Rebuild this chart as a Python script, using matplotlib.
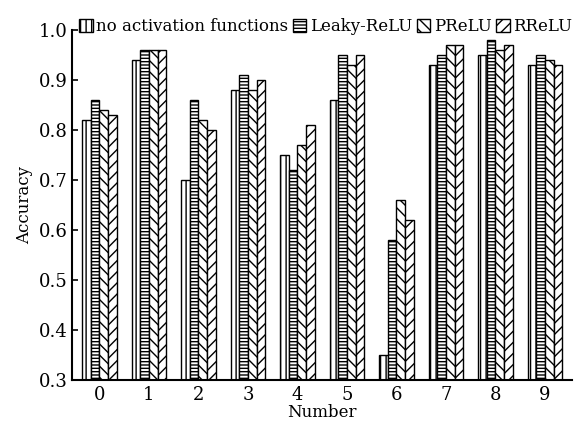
import matplotlib
matplotlib.use("Agg")
import matplotlib.pyplot as plt
import numpy as np

plt.rcParams['font.family'] = ['DejaVu Serif']
plt.rcParams['hatch.linewidth'] = 1.0

categories = ['0', '1', '2', '3', '4', '5', '6', '7', '8', '9']
series_names = ['no activation functions', 'Leaky-ReLU', 'PReLU', 'RReLU']
no_act = [0.82, 0.94, 0.70, 0.88, 0.75, 0.86, 0.35, 0.93, 0.95, 0.93]
leaky = [0.86, 0.96, 0.86, 0.91, 0.72, 0.95, 0.58, 0.95, 0.98, 0.95]
prelu = [0.84, 0.96, 0.82, 0.88, 0.77, 0.93, 0.66, 0.97, 0.96, 0.94]
rrelu = [0.83, 0.96, 0.80, 0.90, 0.81, 0.95, 0.62, 0.97, 0.97, 0.93]
yticks = [0.3, 0.4, 0.5, 0.6, 0.7, 0.8, 0.9, 1.0]

series = [no_act, leaky, prelu, rrelu]
hatches = ['|||', '-----', '\\\\\\', '///']

fig = plt.figure(figsize=(5.82, 4.22), dpi=100)
ax = fig.add_axes([0.124, 0.0995, 0.859, 0.8295])

x = np.arange(len(categories))
w = 0.175
bottom = 0.3
for i, (vals, h, name) in enumerate(zip(series, hatches, series_names)):
    ax.bar(x + (i - 1.5) * w, np.array(vals) - bottom, w, bottom=bottom,
           color='white', edgecolor='black', hatch=h, linewidth=1.0, label=name)

ax.set_xlim(-0.55, 9.55)
ax.set_ylim(0.3, 1.0)
ax.set_xticks(x)
ax.set_xticklabels(categories)
ax.set_yticks(yticks)
ax.set_yticklabels([f'{t:.1f}' for t in yticks])
ax.tick_params(axis='y', direction='in', length=4, width=1.2, labelsize=13)
ax.tick_params(axis='x', length=0, labelsize=13, pad=4)
for s in ['top', 'right']:
    ax.spines[s].set_visible(False)
for s in ['left', 'bottom']:
    ax.spines[s].set_linewidth(1.5)

ax.set_xlabel('Number', fontsize=12, labelpad=0)
ax.set_ylabel('Accuracy', fontsize=12, labelpad=4)

ax.legend(loc='lower right', bbox_to_anchor=(1.0, 0.985), ncol=4, frameon=False,
          fontsize=12, handlelength=0.8, handleheight=0.8, handletextpad=0.2,
          columnspacing=0.3, borderaxespad=0, borderpad=0)

fig.savefig('out.png', dpi=100)
